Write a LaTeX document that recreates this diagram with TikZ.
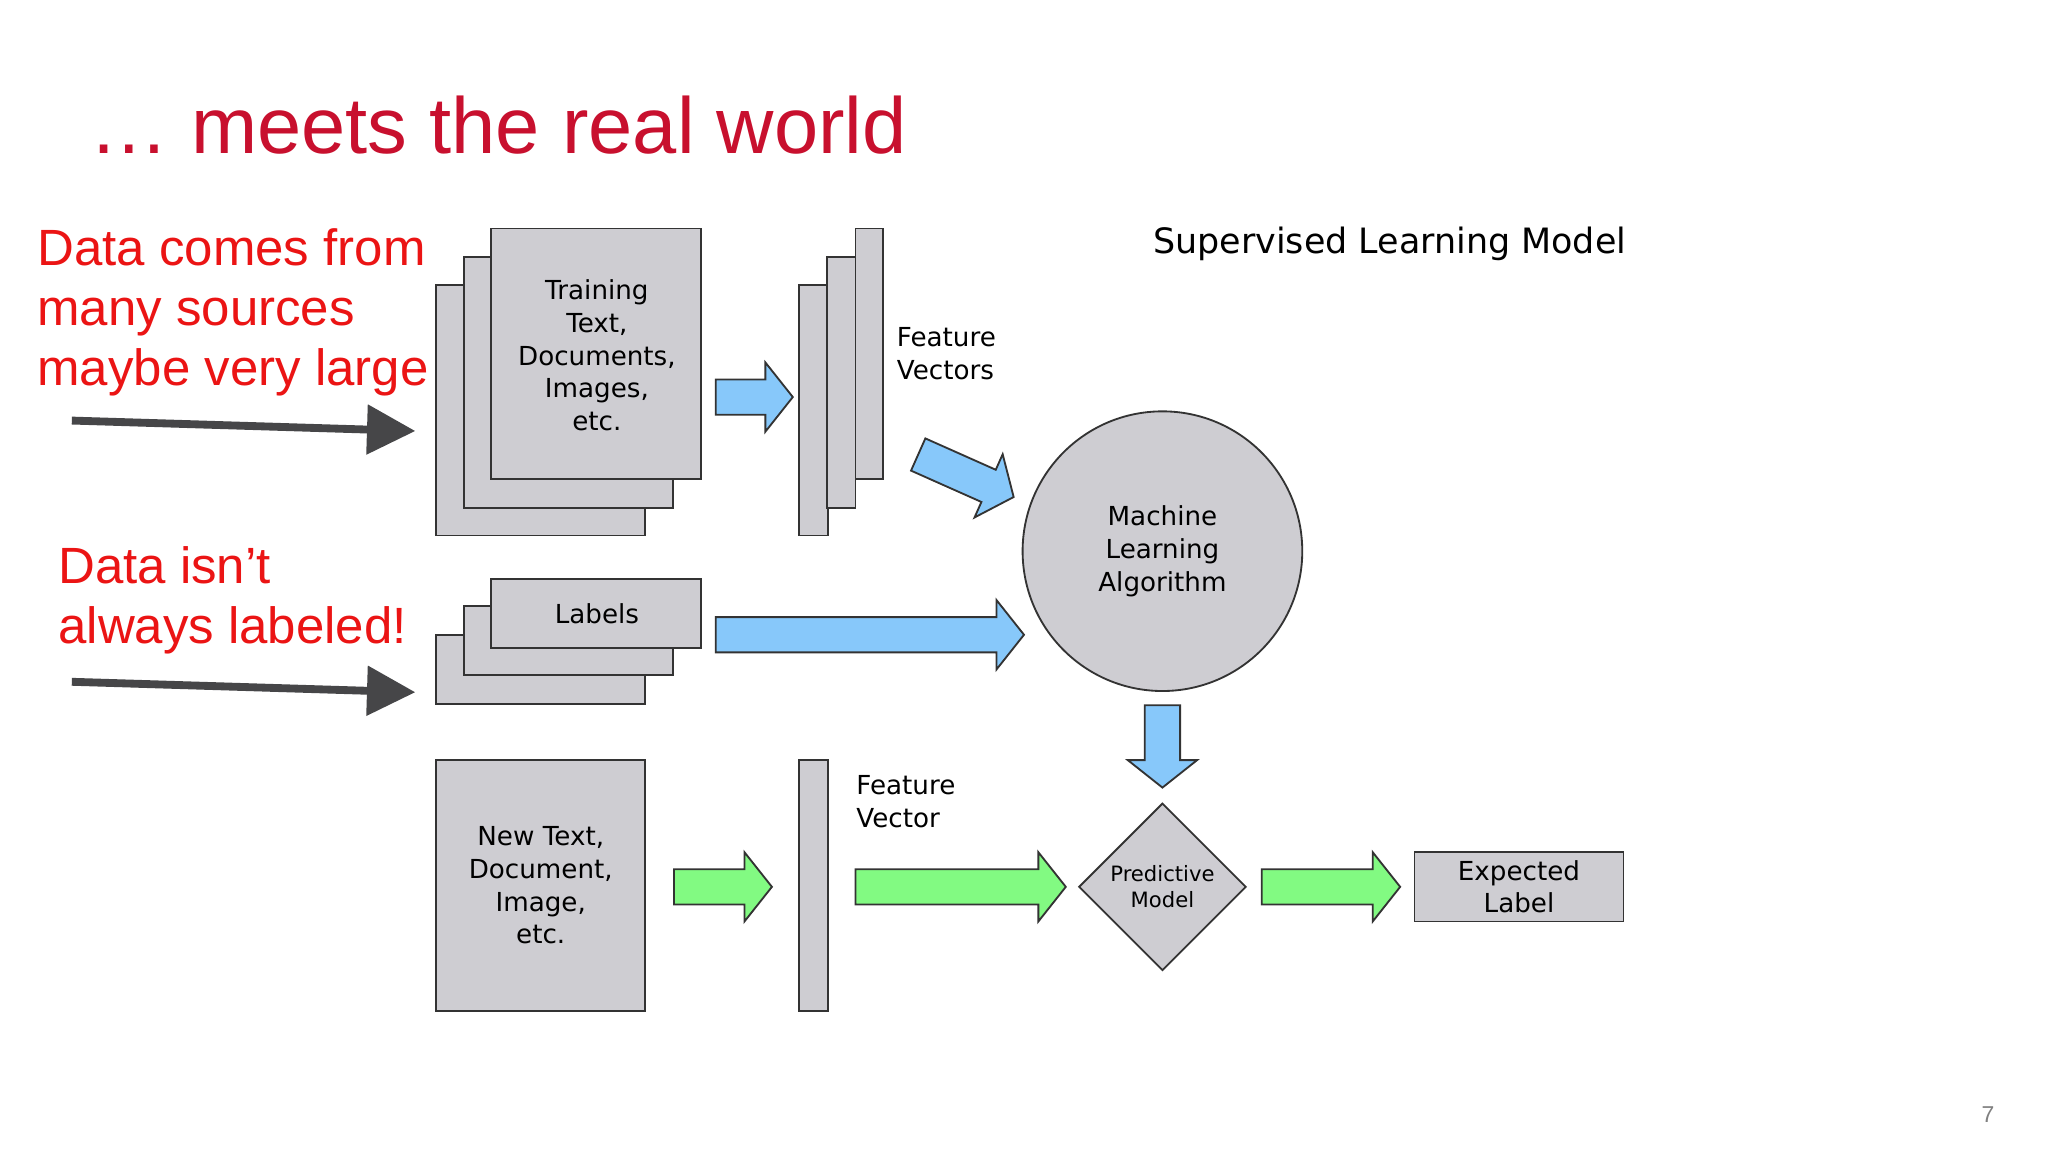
\documentclass[tikz,border=0pt]{standalone}
\usepackage{fontspec}
\setmainfont{DejaVu Sans}
\newfontfamily\redfont{Liberation Sans}
\usetikzlibrary{arrows.meta,shapes.geometric}
\definecolor{boxgray}{RGB}{206,205,210}
\definecolor{titlered}{RGB}{200,16,46}
\definecolor{redtxt}{RGB}{235,20,20}
\definecolor{blueA}{RGB}{135,200,250}
\definecolor{greenA}{RGB}{130,250,130}
\definecolor{darkA}{RGB}{70,70,72}
\tikzset{
  gbox/.style={draw=black!80,fill=boxgray,line width=0.4pt},
  dtext/.style={font=\fontsize{5.7}{7.1}\selectfont,align=center,inner sep=0},
  redlbl/.style={font=\redfont\fontsize{11.1}{13.1}\selectfont,text=redtxt,align=left,inner sep=0,anchor=west},
  barrow/.style={draw=black!80,line width=0.4pt,line join=miter},
  darkarrow/.style={draw=darkA,line width=0.06cm,-{Triangle[length=0.37cm,width=0.37cm]}}
}
% \barr{x}{y}{angle}{length}{colour}: block arrow starting at (x,y)
\newcommand\barr[5]{%
  \begin{scope}[shift={(#1,#2)},rotate=#3]
    \draw[barrow,fill=#5] (0,-13.5) -- ({#4-21},-13.5) -- ({#4-21},-26.5) -- (#4,0)
      -- ({#4-21},26.5) -- ({#4-21},13.5) -- (0,13.5) -- cycle;
  \end{scope}}
\begin{document}
\begin{tikzpicture}[x=0.01cm,y=-0.01cm]
\useasboundingbox[fill=white] (0,0) rectangle (1568,882);
\node[font=\redfont\fontsize{17.3}{19}\selectfont,text=titlered,anchor=west,inner sep=0] (title) at (68,96) {… meets the real world};
\node[redlbl,anchor=north west] (src) at (28,174) {Data comes from\\many sources\\maybe very large};
\node[redlbl,anchor=north west] (lab) at (44,418) {Data isn’t\\always labeled!};
\coordinate (a1s) at (55,322); \coordinate (a1e) at (318,330);
\coordinate (a2s) at (55,522); \coordinate (a2e) at (318,530);
\draw[darkarrow] (a1s) -- (a1e);
\draw[darkarrow] (a2s) -- (a2e);
% training stack
\draw[gbox] (334,218) rectangle (494,410);
\draw[gbox] (355,197) rectangle (515,389);
\draw[gbox] (376,175) rectangle (537,367);
\node[dtext] (train) at (457,272) {Training\\Text,\\Documents,\\Images,\\etc.};
\barr{548}{304}{0}{59}{blueA}
% feature vectors
\draw[gbox] (612,218) rectangle (634,410);
\draw[gbox] (633,197) rectangle (655,389);
\draw[gbox] (655,175) rectangle (676,367);
\node[dtext,align=left,anchor=north west] (fv) at (686,250) {Feature\\Vectors};
\barr{703}{348}{-24}{80}{blueA}
% circle
\node[circle,gbox,minimum size=2.14cm,dtext] (mla) at (890,422) {Machine\\Learning\\Algorithm};
% labels stack
\draw[gbox] (334,486) rectangle (494,539);
\draw[gbox] (355,464) rectangle (515,517);
\draw[gbox] (376,443) rectangle (537,496);
\node[dtext] (labels) at (457,470) {Labels};
\barr{548}{486}{0}{236}{blueA}
\barr{890}{540}{-90}{63}{blueA}
% new text
\draw[gbox] (334,582) rectangle (494,774);
\node[dtext] (newt) at (414,678) {New Text,\\Document,\\Image,\\etc.};
\barr{516}{679}{0}{75}{greenA}
\draw[gbox] (612,582) rectangle (634,774);
\node[dtext,align=left,anchor=north west] (fv2) at (655,593) {Feature\\Vector};
\barr{655}{679}{0}{161}{greenA}
\node[diamond,gbox,minimum size=1.28cm,aspect=1,inner sep=0,font=\fontsize{4.6}{5.6}\selectfont,align=center] (pm) at (890,679) {Predictive\\Model};
\barr{966}{679}{0}{106}{greenA}
\node[gbox,minimum width=1.60cm,minimum height=0.53cm,dtext] (exp) at (1163,679) {Expected\\Label};
\node[font=\fontsize{7.6}{8}\selectfont,inner sep=0] (slm) at (1064,187) {Supervised Learning Model};
\node[font=\redfont\fontsize{5}{6}\selectfont,text=black!50,inner sep=0] (pg) at (1522,853) {7};
\end{tikzpicture}
\end{document}
